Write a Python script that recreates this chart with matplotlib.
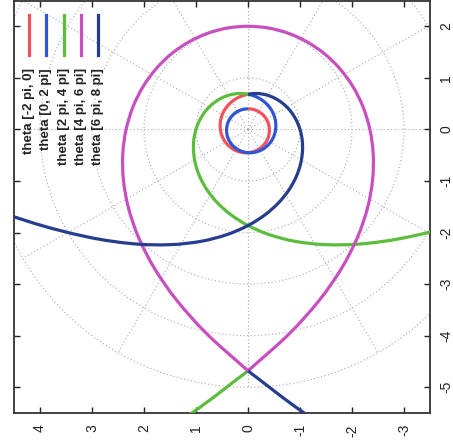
import numpy as np
import matplotlib
matplotlib.use('Agg')
import matplotlib.pyplot as plt
from matplotlib.path import Path
from matplotlib.patches import PathPatch

plt.rcParams['font.family'] = ['Liberation Sans', 'DejaVu Sans']
plt.rcParams['axes.unicode_minus'] = False

# ---- data: radius r read along each theta range (theta in units of pi) ----
labels = ['theta [-2 pi, 0]', 'theta [0, 2 pi]', 'theta [2 pi, 4 pi]',
          'theta [4 pi, 6 pi]', 'theta [6 pi, 8 pi]']
theta_ranges = [(-2, 0), (0, 2), (2, 4), (4, 6), (6, 8)]
colors = ['#f2525c', '#2f55d4', '#5cbd3c', '#c74fbf', '#263d8f']

r_red = [0.683, 0.658, 0.635, 0.614, 0.595, 0.577, 0.561, 0.545,
         0.531, 0.518, 0.507, 0.495, 0.485, 0.476, 0.467, 0.459,
         0.452, 0.445, 0.439, 0.433, 0.428, 0.423, 0.419, 0.415,
         0.412, 0.409, 0.407, 0.405, 0.403, 0.402, 0.401, 0.400,
         0.400]
r_blue = [0.400, 0.400, 0.401, 0.402, 0.403, 0.405, 0.407, 0.409,
          0.412, 0.415, 0.419, 0.423, 0.428, 0.433, 0.439, 0.445,
          0.452, 0.459, 0.467, 0.476, 0.485, 0.495, 0.507, 0.518,
          0.531, 0.545, 0.561, 0.577, 0.595, 0.614, 0.635, 0.658,
          0.683]
r_green = [0.683, 0.711, 0.741, 0.774, 0.810, 0.850, 0.895, 0.944,
           1.000, 1.063, 1.133, 1.214, 1.307, 1.414, 1.539, 1.687,
           1.864, 2.080, 2.348, 2.688, 3.135, 3.744, 4.624, 6.001,
           8.452, 14.014, np.nan, np.nan, -16.485, -9.854, -7.112, -5.619,
           -4.683]
r_magenta = [-4.683, -4.045, -3.585, -3.239, -2.972, -2.761, -2.592, -2.455,
             -2.344, -2.254, -2.181, -2.122, -2.077, -2.042, -2.019, -2.005,
             -2.000, -2.005, -2.019, -2.042, -2.077, -2.122, -2.181, -2.254,
             -2.344, -2.455, -2.592, -2.761, -2.972, -3.239, -3.585, -4.045,
             -4.683]
r_navy = [-4.683, -5.619, -7.112, -9.854, -16.485, np.nan, np.nan, 14.014,
          8.452, 6.001, 4.624, 3.744, 3.135, 2.688, 2.348, 2.080,
          1.864, 1.687, 1.539, 1.414, 1.307, 1.214, 1.133, 1.063,
          1.000, 0.944, 0.895, 0.850, 0.810, 0.774, 0.741, 0.711,
          0.683]
radii = [r_red, r_blue, r_green, r_magenta, r_navy]

x_ticks = [4, 3, 2, 1, 0, -1, -2, -3]
y_ticks = [2, 1, 0, -1, -2, -3, -4, -5]


def smooth_path(xs, ys):
    """Smooth line through the given points (Catmull-Rom drawn as Bezier)."""
    verts, codes = [], []
    ok = np.isfinite(xs) & np.isfinite(ys)
    idx = np.flatnonzero(ok)
    runs = np.split(idx, np.flatnonzero(np.diff(idx) > 1) + 1)
    for run in runs:
        if len(run) < 2:
            continue
        P = np.column_stack([xs[run], ys[run]])
        E = np.vstack([2 * P[0] - P[1], P, 2 * P[-1] - P[-2]])
        verts.append(P[0]); codes.append(Path.MOVETO)
        for i in range(len(P) - 1):
            p0, p1, p2, p3 = E[i], E[i + 1], E[i + 2], E[i + 3]
            verts += [p1 + (p2 - p0) / 6, p2 - (p3 - p1) / 6, p2]
            codes += [Path.CURVE4] * 3
    return Path(verts, codes)


fig = plt.figure(figsize=(4.53, 4.47), dpi=100)
ax = fig.add_axes([14 / 453, (447 - 413) / 447, 416 / 453, 412.5 / 447])

# polar grid
grid_kw = dict(color='#a8a8a8', lw=0.8, ls=(0, (1, 2.2)), zorder=1)
phi = np.linspace(0, 2 * np.pi, 400)
for rr in [1, 2, 3, 4, 5]:
    ax.plot(rr * np.sin(phi), rr * np.cos(phi), **grid_kw)
for ang in np.deg2rad(np.arange(0, 360, 30)):
    ax.plot([0, 5 * np.sin(ang)], [0, 5 * np.cos(ang)], **grid_kw)

# curves (rotated view: horizontal = r sin(theta), vertical = r cos(theta))
for (a, b), r, c in zip(theta_ranges, radii, colors):
    r = np.asarray(r, dtype=float)
    th = np.linspace(a * np.pi, b * np.pi, len(r))
    path = smooth_path(r * np.sin(th), r * np.cos(th))
    ax.add_patch(PathPatch(path, facecolor='none', edgecolor=c, lw=2.3,
                           capstyle='butt', joinstyle='round', zorder=3))

ax.set_xlim(4.5, -3.5)
ax.set_ylim(-5.5, 2.5)
ax.set_xticks(x_ticks)
ax.set_xticklabels([str(v) for v in x_ticks])
ax.set_yticks(y_ticks)
ax.set_yticklabels([str(v) for v in y_ticks])
ax.yaxis.tick_right()
ax.tick_params(direction='in', length=4, width=1, top=True, bottom=True,
               left=True, right=True, labelleft=False, labelright=True,
               labelsize=10, colors='#222222')
ax.tick_params(axis='x', pad=8, labelrotation=90)
ax.tick_params(axis='y', pad=6.5, labelrotation=90)
for lab in ax.get_yticklabels():
    lab.set_verticalalignment('center')
for sp in ax.spines.values():
    sp.set_linewidth(1.3)
    sp.set_color('#333333')

# legend (rotated)
x0, dx = 0.0368, 0.0411
for i, (lab, c) in enumerate(zip(labels, colors)):
    xf = x0 + i * dx
    ax.plot([xf, xf], [0.868, 0.965], color=c, lw=2.3, transform=ax.transAxes,
            clip_on=False, zorder=5)
    ax.text(xf, 0.836, lab, rotation=90, ha='center', va='top',
            transform=ax.transAxes, fontsize=9.5, fontweight='bold',
            color='#222222', zorder=5)

fig.savefig('out.png', dpi=100)
